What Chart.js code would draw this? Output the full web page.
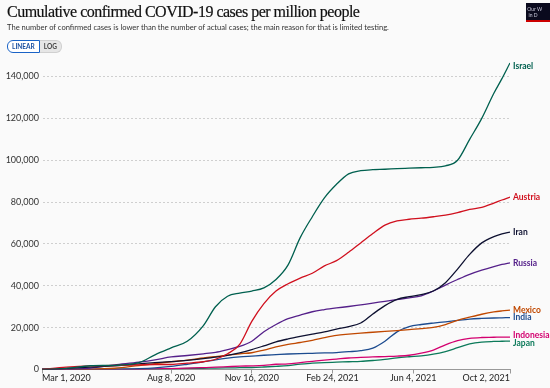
<!DOCTYPE html>
<html>
<head>
<meta charset="utf-8">
<script src="https://cdn.jsdelivr.net/npm/chart.js@4/dist/chart.umd.min.js"></script>
<style>
body { margin: 0; background: #fafafa; font-family: Lato, sans-serif; }
#wrap { position: relative; width: 550px; height: 388px; }
#title { position: absolute; left: 7px; top: 3px; font-family: "Liberation Serif", serif; font-size: 16px; color: #111; letter-spacing: -0.5px; white-space: nowrap; -webkit-text-stroke: 0.2px #111; }
#sub { position: absolute; left: 7px; top: 22px; font-size: 7.6px; color: #333; white-space: nowrap; }
#btns { position: absolute; left: 7px; top: 40px; display: flex; font-size: 6.5px; font-weight: bold; }
#btns div { height: 11px; line-height: 11px; padding: 0 4px; }
#lin { border: 1px solid #1a63c6; color: #1a4fa0; background: #fff; border-radius: 6px 0 0 6px; }
#log { border: 1px solid #d0d0d0; border-left: none; color: #444; background: #e6e6e6; border-radius: 0 6px 6px 0; }
#logo { position: absolute; left: 526px; top: 3px; width: 24px; height: 19px; background: #0a0a1e; border-bottom: 2px solid #c00; color: #ccd; font-size: 5px; line-height: 6px; padding-top: 3px; box-sizing: border-box; overflow: hidden; white-space: nowrap; }
canvas { position: absolute; left: 0; top: 0; }
</style>
</head>
<body>
<div id="wrap">
<canvas id="myChart" width="550" height="388"></canvas>
<div id="title">Cumulative confirmed COVID-19 cases per million people</div>
<div id="sub">The number of confirmed cases is lower than the number of actual cases; the main reason for that is limited testing.</div>
<div id="btns"><div id="lin">LINEAR</div><div id="log">LOG</div></div>
<div id="logo">&nbsp;Our W<br>&nbsp;&nbsp;in D</div>
</div>
<script>
/* Days since Mar 1, 2020 */
var days = [0, 30, 60, 90, 120, 140, 160, 180, 200, 215, 230, 245, 260, 275, 290, 305, 320, 335, 350, 365, 380, 395, 410, 425, 440, 455, 470, 485, 500, 515, 530, 545, 560, 570, 580];

/* Cases per million (thousands) */
var israel    = [0, 0.5, 1.8, 2.0, 3.3, 7.0, 10.3, 13.5, 21, 30, 35, 36.5, 37.5, 39, 43, 50, 63, 73, 82, 88.5, 93.5, 95, 95.5, 95.7, 96, 96.2, 96.4, 96.6, 97.3, 100, 110, 120, 132, 139, 146.5];
var austria   = [0, 1.1, 1.75, 1.9, 2.2, 2.4, 2.4, 3.0, 3.7, 4.9, 7.5, 12, 23, 31.5, 37.5, 41, 43.7, 46, 49.5, 52, 56, 60.5, 65, 69, 71, 71.8, 72.3, 73, 73.8, 75, 76.5, 77.5, 79.5, 81, 82.4];
var iran      = [0, 0.5, 1.1, 1.8, 2.7, 3.3, 3.8, 4.4, 5.2, 5.9, 6.8, 8.0, 9.5, 11.3, 13.2, 14.6, 15.8, 16.9, 18.0, 19.3, 20.5, 22.2, 26.5, 30.5, 33.5, 34.8, 35.8, 37.5, 41.5, 48, 55, 60.5, 63.5, 64.8, 65.7];
var russia    = [0, 0.02, 0.7, 2.2, 3.5, 4.6, 6, 6.7, 7.5, 8.2, 9.5, 11, 13.5, 18, 21.5, 24.3, 26, 27.6, 28.6, 29.4, 30.1, 30.9, 31.7, 32.6, 33.4, 34.2, 35.2, 37.5, 40.3, 43, 45.5, 47.5, 49.2, 50.2, 51];
var mexico    = [0, 0.01, 0.1, 0.6, 1.9, 2.8, 3.7, 4.5, 5.5, 6.2, 6.9, 7.5, 8.0, 9.3, 10.8, 12.0, 12.9, 13.9, 15.2, 16.3, 16.9, 17.4, 17.8, 18.2, 18.6, 19.1, 19.5, 20.1, 21.5, 23.5, 25, 26.4, 27.5, 28, 28.4];
var india     = [0, 0, 0.02, 0.14, 0.42, 0.8, 1.5, 2.5, 3.6, 4.6, 5.4, 6.0, 6.4, 6.8, 7.1, 7.4, 7.6, 7.75, 7.9, 8.1, 8.5, 9.0, 10.2, 13.5, 18, 20.5, 21.5, 22.2, 22.8, 23.5, 24.1, 24.4, 24.6, 24.7, 24.8];
var indonesia = [0, 0, 0.01, 0.04, 0.1, 0.3, 0.45, 0.65, 0.9, 1.1, 1.35, 1.6, 1.75, 2.0, 2.5, 2.7, 3.3, 3.9, 4.5, 5.0, 5.5, 5.8, 6.0, 6.2, 6.4, 6.8, 7.8, 9.3, 11.8, 13.8, 14.9, 15.3, 15.4, 15.5, 15.5];
var japan     = [0, 0.01, 0.05, 0.13, 0.14, 0.22, 0.35, 0.5, 0.6, 0.66, 0.75, 0.85, 0.95, 1.2, 1.5, 1.9, 2.6, 3.0, 3.3, 3.5, 3.7, 3.9, 4.3, 4.8, 5.6, 6.1, 6.5, 7.3, 8.6, 10.4, 12.2, 13.1, 13.4, 13.5, 13.6];

/* Axis ticks */
var xTicks = [0, 160, 260, 360, 460, 580];
var xTickLabels = ['Mar 1, 2020', 'Aug 8, 2020', 'Nov 16, 2020', 'Feb 24, 2021', 'Jun 4, 2021', 'Oct 2, 2021'];
var yTicks = [0, 20000, 40000, 60000, 80000, 100000, 120000, 140000];

var seriesNames  = ['Israel', 'Austria', 'Iran', 'Russia', 'Mexico', 'India', 'Indonesia', 'Japan'];
var seriesValues = [israel, austria, iran, russia, mexico, india, indonesia, japan];
var seriesColors = ['#00604f', '#d0101e', '#0d1030', '#55208a', '#c04800', '#1c4b8f', '#d3006f', '#0c7a5a'];
var labelShift   = [3, 0, 0, 0, 0, 0, -2, 2];

var datasets = [];
for (let i = 0; i < seriesNames.length; i++) {
    var pts = [];
    for (let j = 0; j < days.length; j++) {
        pts.push({x: days[j], y: seriesValues[i][j] * 1000});
    }
    datasets.push({
        label: seriesNames[i],
        data: pts,
        borderColor: seriesColors[i],
        borderWidth: 1.3,
        pointRadius: 0,
        cubicInterpolationMode: 'monotone',
        tension: 0.4
    });
}

/* Line end labels + x tick labels */
var endLabels = {
    id: 'endLabels',
    afterDatasetsDraw: function(chart) {
        var ctx = chart.ctx;
        ctx.save();
        ctx.font = 'bold 8.5px Lato';
        ctx.textBaseline = 'middle';
        ctx.textAlign = 'left';
        chart.data.datasets.forEach(function(ds, i) {
            var meta = chart.getDatasetMeta(i);
            var last = meta.data[meta.data.length - 1];
            ctx.fillStyle = ds.borderColor;
            ctx.fillText(ds.label, last.x + 3, last.y + labelShift[i]);
        });
        var xs = chart.scales.x;
        ctx.font = '9px Lato';
        ctx.fillStyle = '#222';
        ctx.textBaseline = 'top';
        for (let i = 0; i < xTicks.length; i++) {
            ctx.textAlign = i == 0 ? 'left' : (i == xTicks.length - 1 ? 'right' : 'center');
            ctx.fillText(xTickLabels[i], xs.getPixelForValue(xTicks[i]), xs.top + 4);
        }
        ctx.restore();
    }
};

var myChart = new Chart(document.getElementById('myChart'), {
    type: 'line',
    data: { datasets: datasets },
    options: {
        responsive: false,
        animation: false,
        layout: { padding: { left: 0, right: 40, top: 55.6, bottom: 0 } },
        plugins: { legend: { display: false }, tooltip: { enabled: false } },
        scales: {
            x: {
                type: 'linear',
                min: 0,
                max: 580,
                afterBuildTicks: function(axis) { axis.ticks = xTicks.map(function(v) { return {value: v}; }); },
                afterFit: function(axis) { axis.height = 18.5; },
                ticks: { display: false },
                grid: { drawOnChartArea: false, drawTicks: true, tickLength: 4, color: '#999' },
                border: { display: true, color: '#999' }
            },
            y: {
                min: 0,
                max: 150000,
                afterBuildTicks: function(axis) { axis.ticks = yTicks.map(function(v) { return {value: v}; }); },
                afterFit: function(axis) { axis.width = 42; },
                ticks: {
                    color: '#333',
                    padding: 3,
                    font: { family: 'Lato', size: 9 },
                    callback: function(v) { return v.toLocaleString('en-US'); }
                },
                grid: { color: '#cfcfcf', drawTicks: false, tickLength: 0, borderDash: [2, 2] },
                border: { display: true, color: 'rgba(0,0,0,0)', dash: [2, 2] }
            }
        }
    },
    plugins: [endLabels]
});
</script>
</body>
</html>
